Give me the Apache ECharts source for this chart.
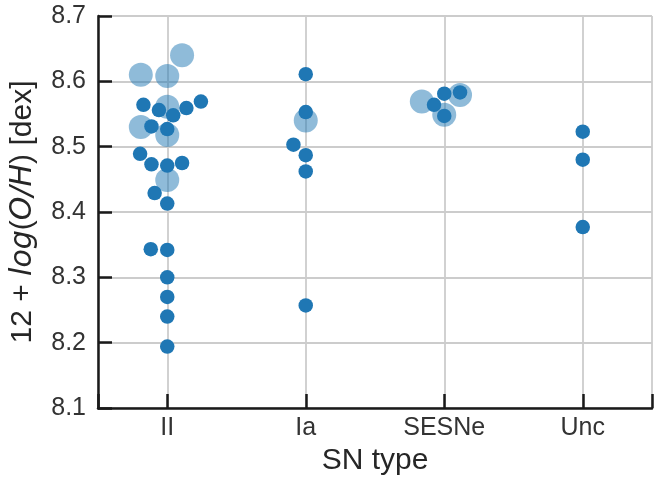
<!DOCTYPE html>
<html><head><meta charset="utf-8">
<script src="https://cdn.jsdelivr.net/npm/echarts@6/dist/echarts.min.js"></script>
<style>html,body{margin:0;padding:0;background:#fff}#c{width:655px;height:481px}</style>
</head><body><div id="c"></div>
<script>
// Categories on the x axis
const categories = ['II', 'Ia', 'SESNe', 'Unc'];
// y-axis range / ticks
const yMin = 8.1, yMax = 8.7, yStep = 0.1;

// Large (light) markers: value and swarm displacement (category units)
const largeII = [8.640, 8.610, 8.608, 8.561, 8.530, 8.518, 8.449];
const largeIIShift = [0.107, -0.191, 0, 0, -0.191, 0, 0];
const largeIa = [8.540];
const largeIaShift = [0];
const largeSESNe = [8.569, 8.549, 8.579];
const largeSESNeShift = [-0.162, 0, 0.114];
const largeUnc = [];
const largeUncShift = [];

// Small (dark) markers
const smallII = [8.569, 8.564, 8.559, 8.556, 8.548, 8.531, 8.527, 8.489, 8.475, 8.473, 8.471, 8.429, 8.413, 8.343, 8.342, 8.300, 8.270, 8.240, 8.194];
const smallIIShift = [0.243, -0.172, 0.138, -0.06, 0.043, -0.114, 0, -0.196, 0.107, -0.114, 0, -0.091, 0, -0.119, 0, 0, 0, 0, 0];
const smallIa = [8.611, 8.553, 8.503, 8.487, 8.462, 8.257];
const smallIaShift = [0, 0, -0.089, 0, 0, 0];
const smallSESNe = [8.583, 8.581, 8.564, 8.547];
const smallSESNeShift = [0.114, 0, -0.074, 0];
const smallUnc = [8.523, 8.480, 8.377];
const smallUncShift = [0, 0, 0];

function build(groups) {
  const out = [];
  groups.forEach(([vals, shifts], ci) => {
    vals.forEach((v, i) => out.push([ci + shifts[i], v]));
  });
  return out;
}
const largeData = build([[largeII, largeIIShift], [largeIa, largeIaShift], [largeSESNe, largeSESNeShift], [largeUnc, largeUncShift]]);
const smallData = build([[smallII, smallIIShift], [smallIa, smallIaShift], [smallSESNe, smallSESNeShift], [smallUnc, smallUncShift]]);

const FONT = 'Liberation Sans, Arial, Helvetica, sans-serif';
const chart = echarts.init(document.getElementById('c'), null, {renderer: 'canvas'});
chart.setOption({
  animation: false,
  backgroundColor: '#ffffff',
  grid: {left: 96, right: -1, top: 16, bottom: 73, containLabel: false},
  xAxis: {
    type: 'value', min: -0.5, max: categories.length - 0.5,
    minInterval: 1, maxInterval: 1,
    name: 'SN type', nameLocation: 'middle', nameGap: 38,
    nameTextStyle: {fontSize: 30, color: '#262626', fontFamily: FONT},
    axisLine: {show: true, onZero: false, lineStyle: {color: '#1a1a1a', width: 2.5}},
    axisTick: {show: true, inside: true, length: 14, lineStyle: {color: '#1a1a1a', width: 2.5}},
    axisLabel: {
      fontSize: 25, color: '#333333', fontFamily: FONT, margin: 8,
      formatter: v => (Number.isInteger(v) && categories[v] !== undefined) ? categories[v] : ''
    },
    splitLine: {show: true, lineStyle: {color: '#cccccc', width: 1.8}}
  },
  yAxis: {
    type: 'value', min: yMin, max: yMax, interval: yStep,
    name: '{a|12 + }{b|log}{a|(}{b|O/H}{a|) [dex]}',
    nameLocation: 'middle', nameGap: 60, nameRotate: 90,
    nameTextStyle: {
      fontSize: 30, color: '#262626', fontFamily: FONT,
      rich: {
        a: {fontSize: 30, color: '#262626', fontFamily: FONT},
        b: {fontSize: 30, color: '#262626', fontFamily: 'DejaVu Sans, ' + FONT, fontStyle: 'italic'}
      }
    },
    axisLine: {show: true, onZero: false, lineStyle: {color: '#1a1a1a', width: 2.5}},
    axisTick: {show: true, inside: true, length: 14, lineStyle: {color: '#1a1a1a', width: 2.5}},
    axisLabel: {fontSize: 25, color: '#333333', fontFamily: FONT, margin: 12,
      formatter: v => v.toFixed(1)},
    splitLine: {show: true, lineStyle: {color: '#cccccc', width: 1.8}}
  },
  series: [
    {
      type: 'scatter', data: largeData, symbol: 'circle', symbolSize: 24, z: 2,
      itemStyle: {color: '#1f77b4', opacity: 0.5}
    },
    {
      type: 'scatter', data: smallData, symbol: 'circle', symbolSize: 14.5, z: 3,
      itemStyle: {color: '#1f77b4', opacity: 1}
    }
  ]
});
</script>
</body></html>
